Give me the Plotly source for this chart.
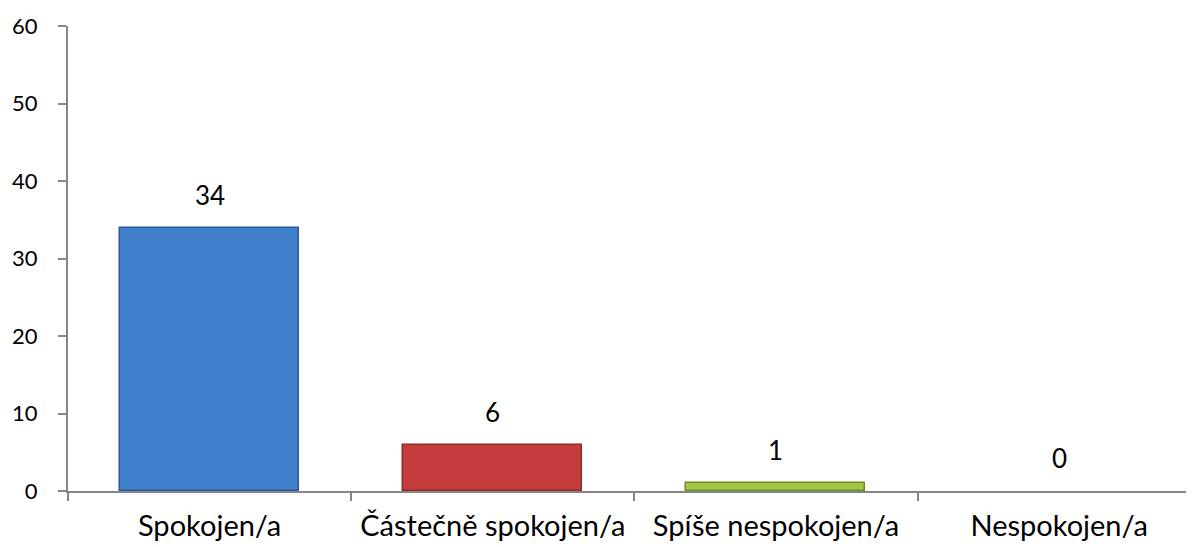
import plotly.graph_objects as go

categories = ["Spokojen/a", "Částečně spokojen/a", "Spíše nespokojen/a", "Nespokojen/a"]
values = [34, 6, 1, 0]
bar_colors = ["#3f7ecb", "#c43d3c", "#a2c845", "#7f7f7f"]
edge_colors = ["#2b5a96", "#8c2a29", "#6f8c28", "#555555"]
y_ticks = [0, 10, 20, 30, 40, 50, 60]

font_family = "Lato, 'Open Sans', sans-serif"

fig = go.Figure(go.Bar(
    x=categories,
    y=values,
    width=0.632,
    marker=dict(color=bar_colors,
                line=dict(color=edge_colors, width=[1.5 if v > 0 else 0 for v in values])),
    hoverinfo="x+y",
))

for c, v in zip(categories, values):
    fig.add_annotation(
        x=c, y=v, text=str(v), showarrow=False,
        yanchor="middle", yshift=33,
        font=dict(family=font_family, size=26, color="#000000"),
    )

fig.update_layout(
    width=1186, height=539,
    margin=dict(l=54, r=4, t=16, b=56),
    plot_bgcolor="white", paper_bgcolor="white",
    showlegend=False,
    bargap=0,
)
fig.update_xaxes(
    range=[-0.5, 3.462],
    showline=True, linecolor="#868686", linewidth=2,
    ticks="outside", ticklen=8, tickcolor="#868686", tickwidth=1.5,
    tickson="boundaries",
    tickfont=dict(family=font_family, size=29, color="#000000"),
    ticklabelstandoff=8,
    showgrid=False, zeroline=False,
)
fig.update_yaxes(
    range=[0, 60],
    tickvals=y_ticks,
    showline=True, linecolor="#868686", linewidth=2,
    ticks="outside", ticklen=8, tickcolor="#868686", tickwidth=1.5,
    tickfont=dict(family=font_family, size=22, color="#000000"),
    ticklabelstandoff=16,
    showgrid=False, zeroline=False,
)

fig.write_html("out.html")
